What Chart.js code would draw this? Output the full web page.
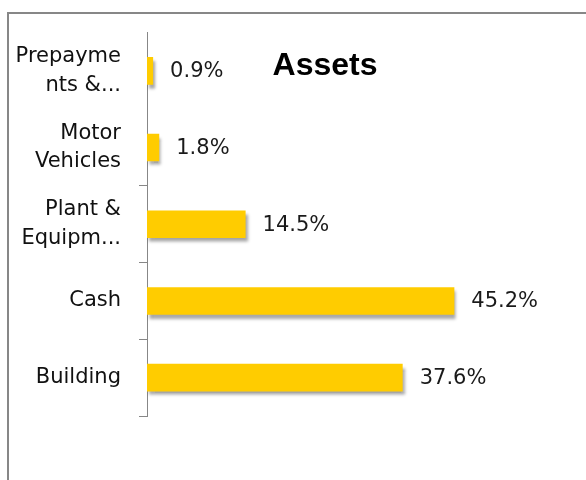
<!DOCTYPE html>
<html>
<head>
<meta charset="utf-8">
<script src="https://cdn.jsdelivr.net/npm/chart.js@4"></script>
<style>
    body { margin: 0; background: #fff; overflow: hidden; }
    #frame {
        position: absolute; left: 7px; top: 12px; width: 640px; height: 520px;
        border-top: 2px solid #878787; border-left: 2px solid #878787;
    }
    #wrap { position: absolute; left: 0; top: 0; width: 586px; height: 480px; }
</style>
</head>
<body>
<div id="frame"></div>
<div id="wrap"><canvas id="assetsChart" width="586" height="480"></canvas></div>
<script>
// Chart data
const categories = [
    ['Prepayme', 'nts &...'],
    ['Motor', 'Vehicles'],
    ['Plant &', 'Equipm...'],
    'Cash',
    'Building'
];
const shares = [0.9, 1.8, 14.5, 45.2, 37.6];
const chartTitle = 'Assets';

// Drop shadow under the bars
const barShadow = {
    id: 'barShadow',
    beforeDatasetsDraw(chart) {
        const ctx = chart.ctx;
        ctx.save();
        ctx.shadowColor = 'rgba(0, 0, 0, 0.35)';
        ctx.shadowOffsetX = 2;
        ctx.shadowOffsetY = 4;
        ctx.shadowBlur = 3;
    },
    afterDatasetsDraw(chart) {
        chart.ctx.restore();
    }
};

// Percent labels next to each bar
const valueLabels = {
    id: 'valueLabels',
    afterDatasetsDraw(chart) {
        const ctx = chart.ctx;
        const meta = chart.getDatasetMeta(0);
        ctx.save();
        ctx.font = '21px "DejaVu Sans"';
        ctx.fillStyle = '#1a1a1a';
        ctx.textAlign = 'left';
        ctx.textBaseline = 'middle';
        meta.data.forEach((bar, i) => {
            ctx.fillText(shares[i].toFixed(1) + '%', bar.x + 17, bar.y + 1);
        });
        ctx.restore();
    }
};

// Title sits inside the plot, like the original
const insideTitle = {
    id: 'insideTitle',
    afterDraw(chart) {
        const ctx = chart.ctx;
        ctx.save();
        ctx.font = 'bold 32px "Liberation Sans"';
        ctx.fillStyle = '#000';
        ctx.textAlign = 'center';
        ctx.textBaseline = 'alphabetic';
        ctx.fillText(chartTitle, 325, 75);
        ctx.restore();
    }
};

const ctx = document.getElementById('assetsChart').getContext('2d');
const chart = new Chart(ctx, {
    type: 'bar',
    data: {
        labels: categories,
        datasets: [{
            data: shares,
            backgroundColor: '#ffcc00',
            borderWidth: 0,
            barPercentage: 0.36,
            categoryPercentage: 1
        }]
    },
    options: {
        indexAxis: 'y',
        responsive: false,
        animation: false,
        layout: {
            padding: { left: 0, top: 30, right: 99, bottom: 64 }
        },
        plugins: {
            legend: { display: false },
            tooltip: { enabled: false },
            title: { display: false }
        },
        scales: {
            x: {
                display: false,
                min: 0,
                max: 50
            },
            y: {
                afterFit(scale) {
                    scale.width = 147;
                },
                border: { color: '#878787', width: 1 },
                grid: {
                    drawOnChartArea: false,
                    color: '#878787',
                    // the original shows no tick marks beside the top two labels
                    tickColor: (c) => (c.index < 2 ? 'rgba(0,0,0,0)' : '#878787'),
                    tickLength: 8
                },
                ticks: {
                    padding: 18,
                    color: '#111',
                    font: { family: '"DejaVu Sans"', size: 21, lineHeight: 1.38 }
                }
            }
        }
    },
    plugins: [barShadow, valueLabels, insideTitle]
});
</script>
</body>
</html>
